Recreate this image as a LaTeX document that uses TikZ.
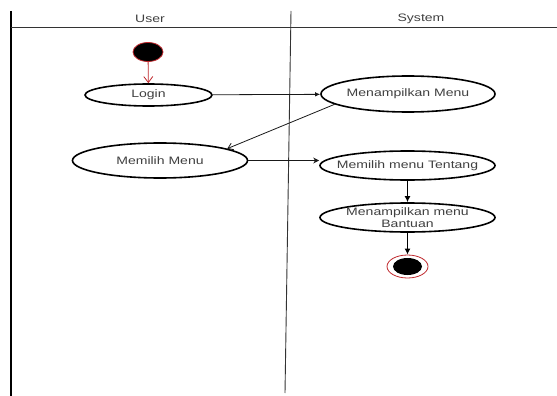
\documentclass[tikz,border=0pt]{standalone}
\usepackage{fontspec}
\setmainfont{Liberation Sans}[FakeStretch=1.3]
\usetikzlibrary{shapes.geometric,arrows.meta}
\definecolor{txt}{HTML}{404040}
\definecolor{lanecol}{HTML}{333333}
\definecolor{redline}{HTML}{C0282D}
\tikzset{
  lbl/.style={text=txt, font=\fontsize{10.8}{11.5}\selectfont, align=center, inner sep=0pt},
  act/.style={ellipse, draw=black, line width=1.6pt, fill=white, inner sep=0pt},
  lane/.style={draw=lanecol, line width=0.9pt},
  thinflow/.style={draw=black!90, line width=0.8pt},
  thickflow/.style={draw=black, line width=1.4pt, -{Latex[length=6pt,width=6pt]}},
}
\begin{document}
\begin{tikzpicture}[x=1pt,y=-1pt]
\useasboundingbox[fill=white] (0,0) rectangle (557,396);
% swimlane frame
\draw[lane, line width=1.3pt, draw=black] (11,11) -- (11,396);
\draw[lane] (291,11) -- (285,393);
\draw[lane] (11,27.5) -- (557,27.5);
\node[lbl] (huser) at (150,19) {User};
\node[lbl] (hsys) at (421,19) {System};
% nodes
\node[ellipse, draw=redline, fill=black, line width=0.8pt, minimum width=30, minimum height=19, inner sep=0pt] (start) at (148,52) {};
\node[act, minimum width=127, minimum height=22, label={[lbl]center:Login}] (login) at (148.5,95) {};
\node[act, minimum width=174, minimum height=36, label={[lbl]center:Menampilkan Menu}] (menu) at (408,94) {};
\node[act, minimum width=175, minimum height=35, label={[lbl]center:Memilih Menu}] (memilih) at (160,160.5) {};
\node[act, minimum width=175, minimum height=29, label={[lbl]center:Memilih menu Tentang}] (tentang) at (407.5,165.5) {};
\node[act, minimum width=175, minimum height=29, label={[lbl]center:Menampilkan menu\\Bantuan}] (bantuan) at (407.5,217.5) {};
\node[ellipse, draw=redline, line width=0.8pt, minimum width=41, minimum height=23, inner sep=0pt] (final) at (407.5,266.5) {};
\node[ellipse, fill=black, minimum width=29, minimum height=17, inner sep=0pt] (finaldot) at (final) {};
% connectors
\draw[draw=redline, line width=0.8pt, -{Straight Barb[length=6pt,width=9pt]}] (start) -- (login);
\draw[thinflow, -{Latex[length=5pt,width=4.5pt]}] (login) -- (menu);
\draw[thinflow, -{Straight Barb[length=5pt,width=7pt]}] (menu.188) -- (memilih.10);
\draw[thinflow, -{Stealth[length=6pt,width=6pt]}] (memilih.east) -- (memilih.east -| tentang.west);
\draw[thickflow] (tentang) -- (bantuan);
\draw[thickflow] (bantuan) -- (final);
\end{tikzpicture}
\end{document}
